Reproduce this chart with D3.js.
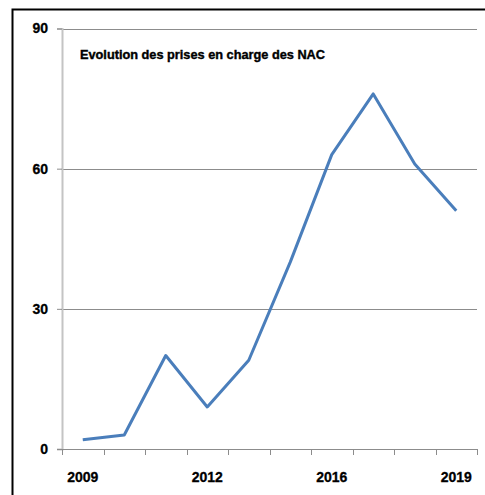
<!DOCTYPE html>
<html>
<head>
<meta charset="utf-8">
<script src="https://cdn.jsdelivr.net/npm/d3@7"></script>
<style>
  html, body { margin: 0; padding: 0; background: #fff; }
  svg { display: block; }
  text { font-family: "Liberation Sans", Arial, sans-serif; font-weight: bold; fill: #000; }
</style>
</head>
<body>
<svg id="chart" width="485" height="495"></svg>
<script>
// Yearly counts of NAC cases taken in charge
const years = ["2009", "2010", "2011", "2012", "2013", "2015", "2016", "2017", "2018", "2019"];
const counts = [2, 3, 20, 9, 19, 40, 63, 76, 61, 51];
const yTicks = [0, 30, 60, 90];
const shownYears = ["2009", "2012", "2016", "2019"];
const title = "Evolution des prises en charge des NAC";

const svg = d3.select("#chart");
const W = 485, H = 495;
const plotLeft = 62, plotRight = 477, plotTop = 28.5, plotBottom = 449;

// Outer frame (extends past the right and bottom edges)
svg.append("rect")
  .attr("x", 12.5).attr("y", 9.5)
  .attr("width", W + 20).attr("height", H + 20)
  .attr("fill", "none").attr("stroke", "#000").attr("stroke-width", 2);

const x = d3.scaleBand().domain(years).range([plotLeft, plotRight]).padding(0);
const y = d3.scaleLinear().domain([0, 90]).range([plotBottom, plotTop]);

// Horizontal gridlines
svg.append("g")
  .selectAll("line")
  .data(yTicks.filter(d => d > 0))
  .join("line")
  .attr("x1", plotLeft).attr("x2", plotRight)
  .attr("y1", d => Math.round(y(d)) + 0.5).attr("y2", d => Math.round(y(d)) + 0.5)
  .attr("stroke", "#8c8c8c").attr("stroke-width", 1);

// Y axis
const yAxis = svg.append("g")
  .attr("transform", `translate(${plotLeft},0)`)
  .call(d3.axisLeft(y).tickValues(yTicks).tickSize(5).tickPadding(9));
yAxis.select(".domain").attr("stroke", "#c4c4c4").attr("stroke-width", 2);
yAxis.selectAll(".tick line").attr("stroke", "#8c8c8c");
yAxis.selectAll(".tick text")
  .style("font-size", "14px").style("font-family", "'Liberation Sans', Arial, sans-serif")
  .style("font-weight", "bold").attr("fill", "#000")
  .attr("stroke", "#000").attr("stroke-width", 0.3);

// X axis with ticks at band boundaries
const xAxisG = svg.append("g").attr("transform", `translate(0,${plotBottom})`);
xAxisG.append("line")
  .attr("x1", plotLeft).attr("x2", plotRight).attr("y1", 0.5).attr("y2", 0.5)
  .attr("stroke", "#8c8c8c").attr("stroke-width", 1);
const bounds = years.map(d => x(d)).concat([x(years[years.length - 1]) + x.bandwidth()]);
xAxisG.selectAll("line.tk")
  .data(bounds)
  .join("line")
  .attr("class", "tk")
  .attr("x1", d => Math.round(d) + 0.5).attr("x2", d => Math.round(d) + 0.5)
  .attr("y1", 0).attr("y2", 6)
  .attr("stroke", "#8c8c8c");
xAxisG.selectAll("text")
  .data(shownYears)
  .join("text")
  .attr("x", d => x(d) + x.bandwidth() / 2)
  .attr("y", 33)
  .attr("text-anchor", "middle")
  .attr("stroke", "#000").attr("stroke-width", 0.3)
  .style("font-size", "14px")
  .text(d => d);

// Line series
const line = d3.line()
  .x((d, i) => x(years[i]) + x.bandwidth() / 2)
  .y(d => y(d));
svg.append("path")
  .datum(counts)
  .attr("d", line)
  .attr("fill", "none")
  .attr("stroke", "#4a7ebb")
  .attr("stroke-width", 3)
  .attr("stroke-linejoin", "round");

// Title inside the plot area
svg.append("text")
  .attr("x", 80).attr("y", 59)
  .attr("textLength", 245).attr("lengthAdjust", "spacingAndGlyphs")
  .attr("stroke", "#000").attr("stroke-width", 0.4)
  .style("font-size", "13px")
  .text(title);
</script>
</body>
</html>
